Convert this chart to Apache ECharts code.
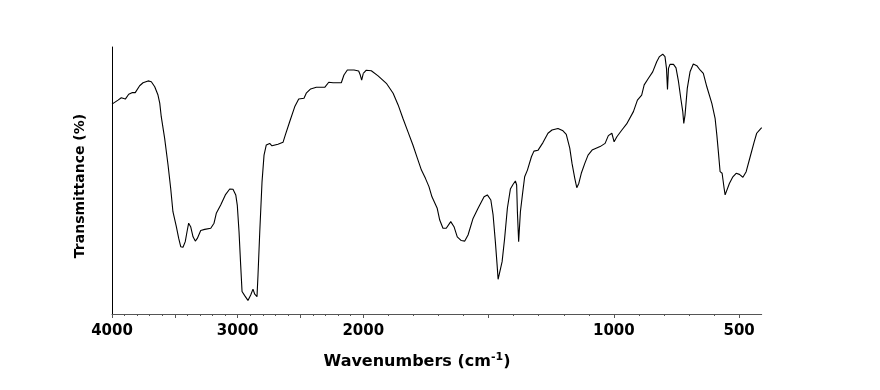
<!DOCTYPE html>
<html>
<head>
<meta charset="utf-8">
<script src="https://cdn.jsdelivr.net/npm/echarts@6/dist/echarts.min.js"></script>
<style>
html,body{margin:0;padding:0;background:#fff;}
#chart{width:880px;height:390px;}
</style>
</head>
<body>
<div id="chart"></div>
<script>
// Wavenumbers (cm-1)
var wavenumbers = [4000,3952,3926,3894,3867,3841,3815,3780,3753,3713,3687,3660,3634,3620,3608,3581,3554,3533,3515,3488,3469,3453,3435,3417,3403,3390,3374,3355,3337,3321,3294,3262,3214,3188,3170,3135,3098,3063,3037,3015,3003,2989,2976,2965,2944,2918,2896,2878,2864,2846,2838,2824,2806,2790,2772,2745,2727,2679,2639,2621,2586,2546,2514,2472,2454,2419,2374,2307,2275,2241,2175,2154,2127,2074,2037,2024,2013,2000,
1988,1968,1941,1908,1881,1861,1842,1822,1802,1784,1768,1752,1738,1726,1722,1705,1695,1682,1669,1651,1638,1625,1609,1595,1582,1562,1542,1518,1505,1491,1482,1473,1466,1462,1456,1446,1436,1425,1413,1402,1393,1388,1385,1380,1373,1365,1356,1345,1329,1319,1303,1283,1263,1247,1223,1203,1190,1176,1167,1156,1148,1140,1130,1116,1103,1087,1055,1035,1022,1008,999,988,968,949,922,906,889,879,862,845,829,818,805,796,790,786,782,776,762,752,742,733,725,721,716,707,696,683,669,656,643,629,609,596,589,583,576,568,560,556,549,539,525,512,499,485,472,456,440,430,419,410];
// Transmittance (%), arbitrary scale (no y tick labels in the reference)
var transmittance = [78.6,80.1,81.0,80.5,82.3,82.9,82.9,85.5,86.6,87.3,87.0,85.1,82.0,79.0,73.9,65.8,55.8,47.1,38.3,32.7,28.3,25.2,25.0,27.1,30.8,34.0,32.7,28.9,27.3,28.3,31.3,31.7,32.1,34.0,37.7,40.8,44.6,46.8,46.7,44.6,40.8,30.8,18.4,8.4,6.9,5.1,7.1,9.3,7.4,6.5,14.6,30.8,49.5,59.5,63.3,63.9,63.0,63.6,64.3,67.0,72.0,77.6,80.5,80.8,82.7,84.3,84.9,84.9,86.8,86.6,86.6,89.5,91.4,91.4,91.0,89.5,87.6,90.1,
91.3,91.1,89.2,86.4,82.7,78.3,73.3,68.3,63.3,58.3,53.9,50.8,47.7,43.9,43.3,39.6,35.2,32.1,32.1,34.6,32.7,28.9,27.5,27.3,29.6,35.8,39.6,43.9,44.6,42.7,37.1,27.1,18.4,13.0,13.4,19.6,28.3,39.6,46.8,48.6,49.8,48.3,38.3,27.1,38.3,44.6,51.4,53.9,58.9,61.0,61.3,64.2,67.7,68.9,69.5,68.6,67.3,62.1,56.4,50.8,47.3,48.9,52.7,56.4,59.5,61.4,62.7,63.9,66.8,67.7,64.5,66.4,68.9,71.2,75.8,80.1,82.0,85.8,88.3,90.7,94.5,96.4,97.3,96.4,92.0,84.1,92.0,93.5,93.5,92.2,87.0,80.8,75.8,71.4,74.5,84.5,90.7,93.6,93.0,91.4,90.1,85.1,78.9,73.3,67.0,60.8,53.3,52.7,47.1,44.6,45.2,48.9,51.4,52.7,52.3,51.2,53.3,58.9,64.5,67.7,68.9,69.8];

// Tick labels
var highLabels = [4000, 3000, 2000];
var lowLabels = [1000, 500];
var lowMajorTicks = [1500, 1000, 500];
var lowMinorTicks = [2000,1900,1800,1700,1600,1500,1400,1300,1200,1100,1000,900,800,700,600,500];

var high = [], low = [];
for (var i = 0; i < wavenumbers.length; i++) {
  if (wavenumbers[i] >= 2000) high.push([wavenumbers[i], transmittance[i]]);
  if (wavenumbers[i] <= 2000) low.push([wavenumbers[i], transmittance[i]]);
}

var FONT = 'DejaVu Sans';
var labelStyle = {fontFamily: FONT, fontWeight: 'bold', fontSize: 15, color: '#000', margin: 10};
var axisColor = '#555';

var chart = echarts.init(document.getElementById('chart'), null, {renderer: 'canvas'});
chart.setOption({
  animation: false,
  backgroundColor: '#fff',
  grid: [
    {left: 112, right: 516.7, top: 47, bottom: 76},
    {left: 363.3, right: 118.3, top: 47, bottom: 76}
  ],
  xAxis: [
    {
      type: 'value', gridIndex: 0, position: 'bottom', min: 2000, max: 4000, inverse: true, interval: 500,
      axisLine: {show: true, onZero: false, lineStyle: {color: axisColor, width: 1}},
      axisTick: {show: true, length: 4, lineStyle: {color: axisColor}},
      minorTick: {show: true, splitNumber: 5, length: 2, lineStyle: {color: axisColor}},
      splitLine: {show: false},
      minorSplitLine: {show: false},
      axisLabel: Object.assign({
        showMinLabel: true, showMaxLabel: true,
        formatter: function (v) { return highLabels.indexOf(v) >= 0 ? String(v) : ''; }
      }, labelStyle)
    },
    {
      type: 'value', gridIndex: 1, position: 'bottom', min: 410, max: 2000, inverse: true,
      axisLine: {show: true, onZero: false, lineStyle: {color: axisColor, width: 1}},
      axisTick: {show: true, length: 2, customValues: lowMinorTicks, lineStyle: {color: axisColor}},
      splitLine: {show: false},
      axisLabel: {show: false}
    },
    {
      type: 'value', gridIndex: 1, position: 'bottom', offset: 0, min: 410, max: 2000, inverse: true,
      axisLine: {show: false, onZero: false},
      axisTick: {show: true, length: 4, customValues: lowMajorTicks, lineStyle: {color: axisColor}},
      splitLine: {show: false},
      axisLabel: Object.assign({
        customValues: lowLabels,
        formatter: function (v) { return String(v); }
      }, labelStyle)
    }
  ],
  yAxis: [
    {
      type: 'value', gridIndex: 0, min: 0, max: 100,
      axisLine: {show: true, lineStyle: {color: '#000', width: 1}},
      axisTick: {show: false}, axisLabel: {show: false}, splitLine: {show: false}
    },
    {
      type: 'value', gridIndex: 1, min: 0, max: 100, show: false,
      splitLine: {show: false}
    }
  ],
  series: [
    {
      type: 'line', xAxisIndex: 0, yAxisIndex: 0, data: high,
      showSymbol: false, lineStyle: {color: '#000', width: 1.1}, silent: true
    },
    {
      type: 'line', xAxisIndex: 1, yAxisIndex: 1, data: low,
      showSymbol: false, lineStyle: {color: '#000', width: 1.1}, silent: true
    }
  ],
  graphic: [
    {
      type: 'text', x: 80, y: 186, rotation: Math.PI / 2,
      style: {
        text: 'Transmittance (%)', fontFamily: FONT, fontWeight: 'bold', fontSize: 14,
        fill: '#000', align: 'center', verticalAlign: 'middle'
      }
    },
    {
      type: 'text', x: 417, y: 362,
      style: {
        text: '{a|Wavenumbers (cm}{b|-1}{a|)}',
        align: 'center', verticalAlign: 'middle',
        rich: {
          a: {fontFamily: FONT, fontWeight: 'bold', fontSize: 16, fill: '#000', lineHeight: 20},
          b: {fontFamily: FONT, fontWeight: 'bold', fontSize: 11, fill: '#000', verticalAlign: 'top', lineHeight: 20}
        }
      }
    }
  ]
});
</script>
</body>
</html>
